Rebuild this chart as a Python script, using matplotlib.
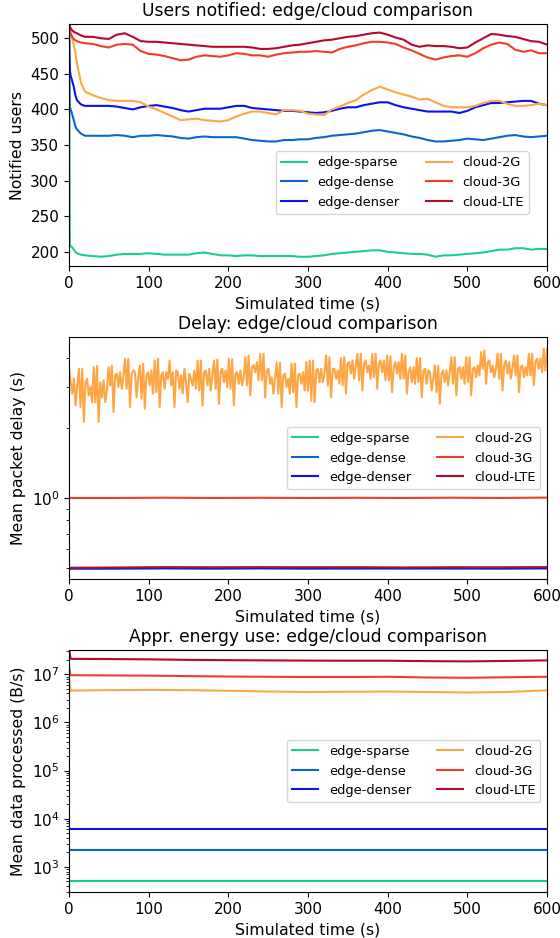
import numpy as np
import matplotlib
matplotlib.use("Agg")
import matplotlib.pyplot as plt

SERIES = ['edge-sparse', 'edge-dense', 'edge-denser', 'cloud-2G', 'cloud-3G', 'cloud-LTE']
COLORS = {
    'edge-sparse': '#19cc99',
    'edge-dense': '#0a66cc',
    'edge-denser': '#0a12f2',
    'cloud-2G': '#fea646',
    'cloud-3G': '#f23d24',
    'cloud-LTE': '#b30a2e',
}

# --- users notified -------------------------------------------------------
t_users = [0, 1, 2, 4, 6, 8, 10, 15, 20] + list(range(30, 601, 10))

users = {
    'edge-sparse': [525, 210, 208, 206, 203, 200, 198, 196, 195,
                    194, 193, 194, 196, 197, 197, 197, 198, 197, 196,
                    196, 196, 196, 198, 199, 197, 195, 195, 194, 195,
                    195, 194, 194, 194, 194, 194, 193, 193, 194, 195,
                    197, 198, 199, 200, 201, 202, 202, 200, 199, 198,
                    197, 197, 196, 193, 195, 195, 196, 197, 198, 199,
                    201, 203, 203, 205, 205, 203, 204, 204],
    'edge-dense': [470, 404, 400, 393, 385, 376, 372, 366, 363,
                   363, 363, 363, 364, 363, 361, 363, 363, 364, 363,
                   362, 360, 359, 361, 362, 361, 361, 361, 361, 359,
                   357, 356, 355, 355, 357, 357, 358, 358, 360, 361,
                   363, 364, 365, 366, 368, 370, 371, 369, 367, 365,
                   362, 360, 357, 355, 355, 356, 357, 359, 358, 357,
                   359, 361, 363, 364, 362, 361, 362, 363],
    'edge-denser': [525, 455, 448, 440, 432, 420, 413, 407, 405,
                    405, 405, 405, 404, 402, 400, 403, 405, 406, 404,
                    402, 399, 397, 399, 401, 401, 401, 403, 405, 405,
                    402, 401, 400, 399, 398, 398, 397, 396, 395, 396,
                    398, 401, 403, 403, 406, 408, 410, 410, 406, 403,
                    401, 399, 397, 397, 397, 397, 395, 398, 403, 406,
                    409, 409, 410, 411, 412, 412, 408, 406],
    'cloud-2G': [522, 515, 508, 500, 490, 480, 465, 438, 425,
                 420, 416, 413, 412, 412, 412, 410, 404, 400, 395,
                 390, 385, 386, 387, 385, 384, 383, 385, 390, 394,
                 397, 397, 395, 393, 399, 399, 398, 394, 393, 392,
                 400, 404, 409, 413, 421, 427, 432, 428, 424, 421,
                 418, 414, 415, 410, 405, 403, 403, 403, 405, 409,
                 412, 412, 408, 405, 405, 406, 408, 406],
    'cloud-3G': [522, 512, 506, 502, 499, 497, 496, 494, 493,
                 492, 489, 487, 491, 492, 491, 482, 478, 477, 475,
                 472, 469, 470, 474, 476, 475, 474, 476, 479, 478,
                 476, 476, 474, 477, 479, 480, 481, 481, 482, 481,
                 480, 485, 488, 490, 493, 495, 495, 494, 492, 487,
                 483, 478, 473, 470, 473, 475, 476, 474, 479, 486,
                 491, 494, 492, 484, 481, 483, 479, 479],
    'cloud-LTE': [530, 518, 514, 511, 509, 508, 507, 504, 502,
                  502, 500, 499, 505, 507, 502, 496, 495, 495, 494,
                  493, 492, 491, 490, 489, 488, 488, 488, 488, 488,
                  487, 485, 485, 486, 488, 490, 491, 493, 495, 497,
                  498, 500, 502, 503, 505, 507, 508, 505, 501, 498,
                  491, 488, 490, 489, 489, 488, 486, 487, 494, 500,
                  506, 505, 503, 502, 499, 496, 495, 491],
}

# --- mean packet delay ----------------------------------------------------
delay_2g = [
    3.67, 3.16, 2.82, 3.27, 2.51, 3.06, 3.61, 2.47, 3.61, 2.13,
    3.16, 3.27, 2.77, 3.01, 2.59, 3.67, 2.59, 3.71, 2.13, 3.16,
    2.72, 3.22, 2.59, 2.91, 3.67, 3.06, 3.73, 2.35, 3.38, 3.44,
    3.01, 3.49, 2.96, 3.38, 3.99, 2.96, 3.99, 2.47, 3.44, 3.55,
    3.49, 2.72, 3.32, 3.73, 2.68, 3.80, 2.43, 3.38, 3.49, 3.06,
    3.55, 2.82, 3.92, 2.86, 3.99, 2.47, 3.38, 3.49, 2.96, 3.49,
    3.27, 3.92, 3.06, 3.49, 2.47, 3.55, 3.49, 2.96, 3.38, 2.82,
    3.61, 3.16, 2.59, 3.44, 3.27,
    3.06, 3.55, 2.96, 3.92, 2.91, 3.92, 2.51, 3.49, 3.55, 3.06,
    3.61, 2.91, 3.38, 3.92, 2.96, 3.96, 2.55, 3.49, 3.61, 3.16,
    3.55, 3.01, 3.99, 2.96, 3.96, 2.51, 3.44, 3.49, 3.11, 3.55,
    3.06, 3.32, 4.05, 3.06, 4.12, 2.77, 3.67, 3.75, 3.49, 3.86,
    3.22, 4.19, 3.22, 4.19, 2.72, 3.55, 3.61, 3.11, 3.32, 2.82,
    3.32, 3.84, 2.82, 3.84, 2.47, 3.38, 3.44, 3.01, 3.27, 2.82,
    3.80, 2.86, 3.80, 2.47, 3.38, 3.44, 3.11, 3.49, 2.91, 3.86,
    2.91, 3.92, 2.63,
    3.92, 2.59, 3.55, 3.61, 3.16, 3.61, 3.16, 3.44, 4.12, 3.06,
    4.05, 2.72, 3.61, 3.61, 3.27, 3.55, 3.11, 4.01, 3.06, 4.05,
    2.82, 3.80, 3.86, 3.44, 3.92, 3.27, 3.73, 4.19, 3.22, 4.19,
    2.91, 3.80, 3.92, 3.49, 3.73, 3.27, 4.19, 3.32, 4.19, 2.96,
    3.80, 3.92, 3.49, 3.92, 3.22, 4.12, 3.22, 4.09, 2.86, 3.67,
    3.86, 3.44, 3.86, 3.27, 4.19, 3.27, 4.12, 2.82, 3.49, 3.67,
    3.16, 3.67, 3.11, 4.01, 3.16, 4.01, 2.72, 3.55, 3.61, 3.11,
    3.55,
    3.49, 2.91, 3.27, 3.73, 2.86, 3.73, 2.55, 3.44, 3.55, 3.16,
    3.55, 3.06, 3.49, 4.05, 3.11, 4.05, 2.77, 3.61, 3.67, 3.27,
    3.67, 3.11, 4.05, 3.16, 4.05, 2.77, 3.61, 3.67, 3.32, 3.73,
    3.38, 4.26, 3.61, 4.33, 3.11, 3.86, 3.92, 3.49, 3.73, 3.32,
    3.61, 4.19, 3.27, 4.19, 2.91, 3.73, 3.92, 3.44, 3.86, 3.27,
    3.61, 4.12, 3.38, 4.12, 2.86, 3.67, 3.73, 3.32, 3.67, 3.38,
    4.19, 3.38, 4.19, 3.06, 3.86, 3.99, 3.61, 3.99, 3.49, 4.41,
    3.55, 4.41,
]
t_delay_2g = np.linspace(0, 600, len(delay_2g))

t_delay = [0, 60, 120, 180, 240, 300, 360, 420, 480, 540, 600]
delay = {
    'edge-sparse': [0.498, 0.499, 0.500, 0.500, 0.499, 0.501, 0.502, 0.500, 0.501, 0.500, 0.502],
    'edge-dense': [0.496, 0.496, 0.497, 0.496, 0.497, 0.496, 0.497, 0.496, 0.497, 0.496, 0.497],
    'edge-denser': [0.497, 0.497, 0.498, 0.497, 0.498, 0.497, 0.497, 0.498, 0.497, 0.497, 0.498],
    'cloud-3G': [1.000, 1.000, 1.003, 1.000, 1.002, 1.000, 1.002, 1.000, 1.003, 1.000, 1.004],
    'cloud-LTE': [0.500, 0.501, 0.503, 0.502, 0.503, 0.502, 0.502, 0.501, 0.502, 0.502, 0.503],
}

# --- data processed -------------------------------------------------------
t_energy = [0, 2, 50, 100, 150, 200, 250, 300, 350, 400, 450, 500, 550, 600]
energy = {
    'edge-sparse': [520, 520, 520, 520, 520, 520, 520, 520, 520, 520, 520, 520, 520, 520],
    'edge-dense': [2200, 2200, 2200, 2200, 2200, 2200, 2200, 2200, 2200, 2200, 2200, 2200, 2200, 2200],
    'edge-denser': [6000, 6000, 6000, 6000, 6000, 6000, 6000, 6000, 6000, 6000, 6000, 6000, 6000, 6000],
    'cloud-2G': [8.0e6, 4.6e6, 4.7e6, 4.75e6, 4.7e6, 4.55e6, 4.4e6, 4.3e6, 4.35e6, 4.4e6, 4.3e6, 4.2e6, 4.3e6, 4.65e6],
    'cloud-3G': [1.4e7, 9.6e6, 9.5e6, 9.4e6, 9.2e6, 9.0e6, 8.9e6, 8.8e6, 8.8e6, 8.9e6, 8.6e6, 8.5e6, 8.7e6, 8.9e6],
    'cloud-LTE': [3.5e7, 2.1e7, 2.08e7, 2.05e7, 2.0e7, 1.97e7, 1.95e7, 1.93e7, 1.92e7, 1.92e7, 1.88e7, 1.86e7, 1.9e7, 1.95e7],
}

TICK_SIZE = 11
LABEL_SIZE = 11.3
TITLE_SIZE = 12.3
LEGEND_SIZE = 9.4


def style_axis(ax, title, ylabel):
    ax.set_title(title, fontsize=TITLE_SIZE)
    ax.set_xlabel('Simulated time (s)', fontsize=LABEL_SIZE)
    ax.set_ylabel(ylabel, fontsize=LABEL_SIZE)
    ax.set_xlim(0, 600)
    ax.set_xticks(range(0, 601, 100))
    ax.tick_params(labelsize=TICK_SIZE)


fig, axes = plt.subplots(3, 1, figsize=(5.6, 9.38), dpi=100)
fig.subplots_adjust(left=0.1232, right=0.9768, top=0.9744, bottom=0.049, hspace=0.2934)

ax = axes[0]
for name in SERIES:
    ax.plot(t_users, users[name], color=COLORS[name], lw=1.5, label=name)
ax.set_ylim(180, 520)
ax.set_yticks(range(200, 501, 50))
style_axis(ax, 'Users notified: edge/cloud comparison', 'Notified users')
ax.legend(ncol=2, fontsize=LEGEND_SIZE, loc='center right', bbox_to_anchor=(0.976, 0.345))

ax = axes[1]
for name in SERIES:
    if name == 'cloud-2G':
        ax.plot(t_delay_2g, delay_2g, color=COLORS[name], lw=1.5, label=name)
    else:
        ax.plot(t_delay, delay[name], color=COLORS[name], lw=1.5, label=name)
ax.set_yscale('log')
ax.set_ylim(0.447, 4.95)
style_axis(ax, 'Delay: edge/cloud comparison', 'Mean packet delay (s)')
ax.legend(ncol=2, fontsize=LEGEND_SIZE, loc='center right')

ax = axes[2]
for name in SERIES:
    ax.plot(t_energy, energy[name], color=COLORS[name], lw=1.5, label=name)
ax.set_yscale('log')
ax.set_ylim(300, 3.2e7)
style_axis(ax, 'Appr. energy use: edge/cloud comparison', 'Mean data processed (B/s)')
ax.legend(ncol=2, fontsize=LEGEND_SIZE, loc='center right')

fig.savefig('out.png', dpi=100)
